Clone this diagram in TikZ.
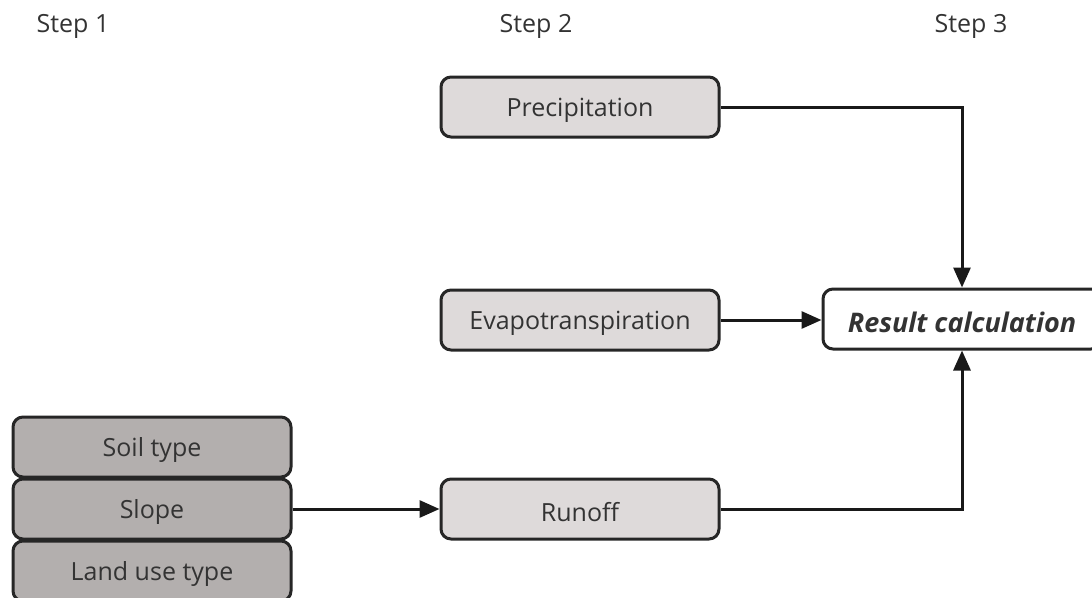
\documentclass[tikz,border=0pt]{standalone}
\usepackage{fontspec}
\setmainfont{Open Sans}
\usetikzlibrary{arrows.meta}
\definecolor{lightbox}{HTML}{DEDADA}
\definecolor{darkbox}{HTML}{B3AFAE}
\definecolor{txt}{HTML}{333333}
\newcommand{\lowtxt}[1]{\raisebox{-3pt}[\height][\depth]{#1}}
\tikzset{
  box/.style={draw=black!85, line width=3pt, rounded corners=10pt, minimum width=278pt, minimum height=60pt, inner sep=0pt, text=txt, font=\fontsize{25}{30}\selectfont},
  lbox/.style={box, fill=lightbox},
  dbox/.style={box, fill=darkbox},
  steplabel/.style={text=txt, font=\fontsize{25}{30}\selectfont, inner sep=0pt},
  arr/.style={line width=3pt, draw=black!90, -{Triangle[length=20pt,width=17pt]}}
}
\begin{document}
\begin{tikzpicture}[x=1pt,y=-1pt]
\useasboundingbox (0,0) rectangle (1092,597);
\node[steplabel] (s1) at (73,26) {Step 1};
\node[steplabel] (s2) at (536,26) {Step 2};
\node[steplabel] (s3) at (971,26) {Step 3};
\node[lbox] (prec) at (580,107) {\lowtxt{Precipitation}};
\node[lbox] (evap) at (580,320) {\lowtxt{Evapotranspiration}};
\node[lbox] (run) at (580,509) {\lowtxt{Runoff}};
\node[box, fill=white, font=\fontsize{27}{32}\selectfont\bfseries\itshape] (res) at (962,319) {\lowtxt{Result calculation}};
\node[dbox] (soil) at (152,447) {\lowtxt{Soil type}};
\node[dbox] (slope) at (152,509) {\lowtxt{Slope}};
\node[dbox] (land) at (152,571) {\lowtxt{Land use type}};
\draw[arr] (prec.east) -| (res.north);
\draw[arr] (run.east) -| (res.south);
\draw[arr] (evap.east) -- (evap.east -| res.west);
\draw[arr] (slope.east) -- (run.west);
\end{tikzpicture}
\end{document}
